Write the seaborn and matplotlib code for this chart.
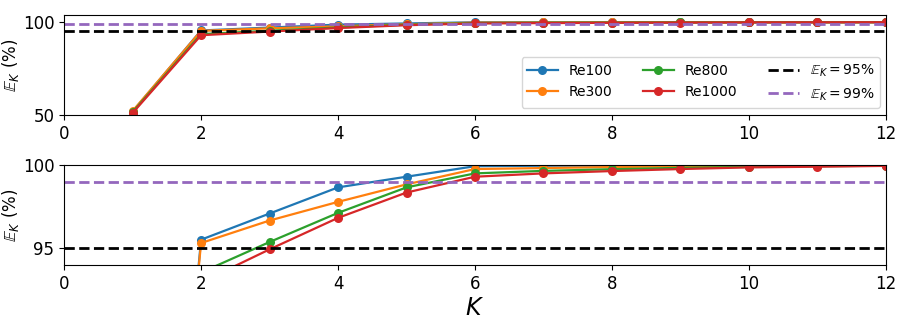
import matplotlib
matplotlib.use('Agg')
import matplotlib.pyplot as plt
import seaborn as sns
import numpy as np
import pandas as pd

# modes retained K and cumulative energy (%) for each Reynolds number
modes = [1, 2, 3, 4, 5, 6, 7, 8, 9, 10, 11, 12]
re100 = [51.8, 95.52, 97.09, 98.66, 99.30, 99.93, 99.96, 99.97, 99.98, 99.99, 99.99, 100.0]
re300 = [52.2, 95.32, 96.67, 97.79, 98.84, 99.76, 99.82, 99.88, 99.92, 99.95, 99.97, 99.98]
re800 = [51.6, 93.55, 95.38, 97.13, 98.66, 99.50, 99.65, 99.75, 99.83, 99.89, 99.93, 99.96]
re1000 = [51.1, 92.96, 94.94, 96.83, 98.35, 99.30, 99.50, 99.64, 99.76, 99.86, 99.90, 99.95]
cases = ['Re100', 'Re300', 'Re800', 'Re1000']
thresholds = [95, 99]

df = pd.DataFrame({
    'K': modes * 4,
    'E': re100 + re300 + re800 + re1000,
    'case': sum([[c] * len(modes) for c in cases], []),
})

palette = dict(zip(cases, sns.color_palette('tab10')[:4]))
line_cols = ['black', '#9467bd']

fig, (ax1, ax2) = plt.subplots(2, 1, figsize=(9.03, 3.28), dpi=100)
fig.subplots_adjust(left=0.071, right=0.981, top=0.954, bottom=0.192, hspace=0.5)

for ax in (ax1, ax2):
    sns.lineplot(data=df, x='K', y='E', hue='case', palette=palette,
                 marker='o', markersize=6.5, markeredgewidth=0, linewidth=1.6, ax=ax)
    for t, c in zip(thresholds, line_cols):
        ax.axhline(t, color=c, linestyle='--', linewidth=2,
                   label=rf'$\mathbb{{E}}_K = {t}\%$')
    ax.set_xlim(0, 12)
    ax.set_xticks([0, 2, 4, 6, 8, 10, 12])
    ax.tick_params(labelsize=12)
    ax.set_ylabel(r'$\mathbb{E}_K$ (%)', fontsize=12)
    ax.yaxis.set_label_coords(-0.052, 0.5)
    ax.set_xlabel('')

ax1.set_ylim(50, 103.8)
ax1.set_yticks([50, 100])
ax2.set_ylim(94, 100)
ax2.set_yticks([95, 100])
ax2.set_xlabel('$K$', fontsize=17, labelpad=2)

ax2.get_legend().remove()
handles, labels = ax1.get_legend_handles_labels()
ax1.legend(handles, labels, ncol=3, loc='lower right', fontsize=10,
           bbox_to_anchor=(0.993, 0.07), borderaxespad=0,
           columnspacing=2.2, handlelength=2.2)

plt.savefig('out.png', dpi=100)
